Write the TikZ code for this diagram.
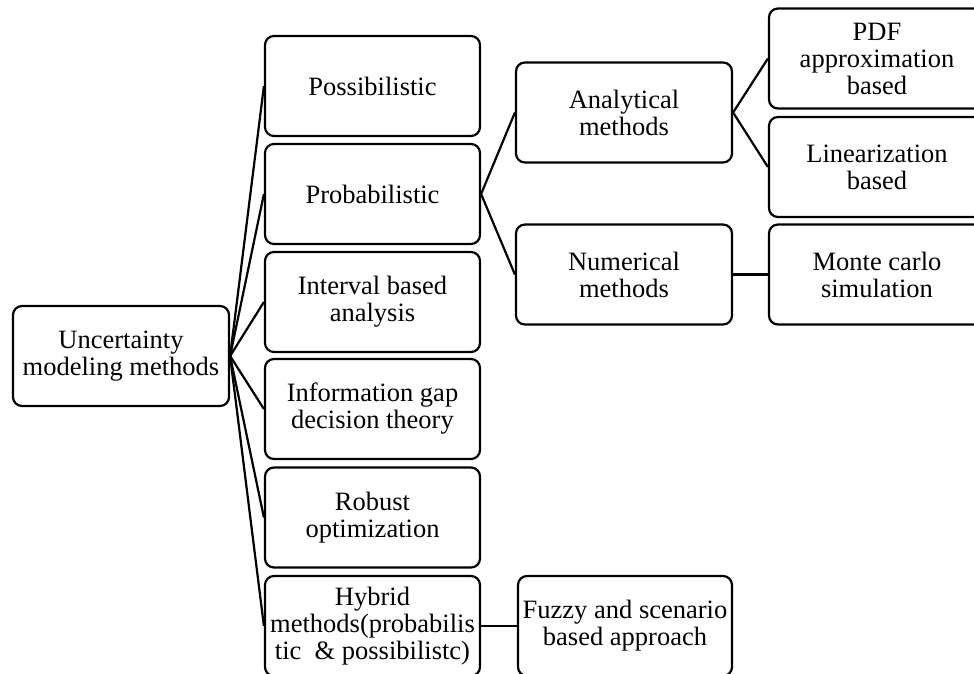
\documentclass[tikz,border=0pt]{standalone}
\usepackage{fontspec}
\setmainfont{Liberation Serif}
\begin{document}
\begin{tikzpicture}[x=1pt,y=-1pt,
  box/.style={draw, line width=2.2pt, rounded corners=9pt, rectangle,
    minimum width=215pt, minimum height=100pt, inner sep=0pt, align=center,
    font=\fontsize{26.5}{27}\selectfont},
  link/.style={line width=2.2pt}]
\clip (0,0) rectangle (974,673);
\fill[white] (0,0) rectangle (974,673);

% root
\node[box, minimum width=216pt] (root) at (121,356) {Uncertainty\\modeling methods};

% first level
\node[box] (poss)  at (372.5,86)  {Possibilistic};
\node[box] (prob)  at (372.5,194) {Probabilistic};
\node[box] (intv)  at (372.5,302) {Interval based\\analysis};
\node[box] (igdt)  at (372.5,409) {Information gap\\decision theory};
\node[box] (rob)   at (372.5,517.5) {Robust\\optimization};
\node[box] (hyb)   at (372.5,626) {Hybrid\\methods(probabilis\\tic\ \ \& possibilistc)};

% second level
\node[box, minimum width=216pt] (anal) at (624,112.5) {Analytical\\methods};
\node[box, minimum width=216pt] (num)  at (624,274.5) {Numerical\\methods};
\node[box, minimum width=214pt] (fuzz) at (625,626)   {Fuzzy and scenario\\based approach};

% third level
\node[box, minimum width=216pt] (pdf)  at (877,58.5)  {PDF\\approximation\\based};
\node[box, minimum width=216pt] (lin)  at (877,167)   {Linearization\\based};
\node[box, minimum width=216pt] (mc)   at (877,274.5) {Monte carlo\\simulation};

% connectors
\foreach \n in {poss,prob,intv,igdt,rob,hyb}
  \draw[link] (root.east) -- (\n.west);
\draw[link] (prob.east) -- (anal.west);
\draw[link] (prob.east) -- (num.west);
\draw[link] (anal.east) -- (pdf.west);
\draw[link] (anal.east) -- (lin.west);
\draw[link] (num.east) -- (mc.west);
\draw[link] (hyb.east) -- (fuzz.west);
\end{tikzpicture}
\end{document}
